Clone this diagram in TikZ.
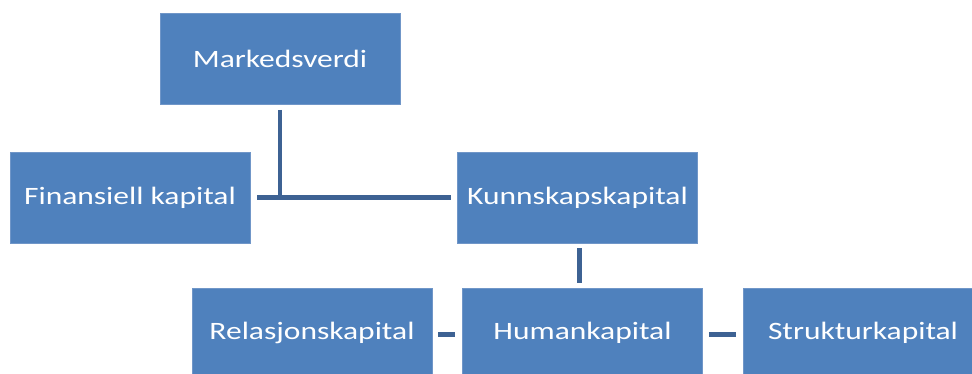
\documentclass[tikz,border=0pt]{standalone}
\usepackage{fontspec}
\setmainfont{Carlito}
\usetikzlibrary{calc}
\definecolor{boxfill}{HTML}{4F81BD}
\definecolor{boxedge}{HTML}{7096C8}
\definecolor{linkcol}{HTML}{3D6293}
\tikzset{
  orgbox/.style={draw=boxedge, line width=0.8pt, fill=boxfill, text=white,
    minimum width=240pt, minimum height=91pt, inner sep=0pt,
    font=\fontsize{25}{28}\selectfont},
  link/.style={draw=linkcol, line width=4.6pt}
}
\newcommand{\wide}[1]{\scalebox{1.26}[1]{#1}}
\begin{document}
\begin{tikzpicture}[x=1pt,y=-1pt]
  \useasboundingbox (0,0) rectangle (972,374);
  \clip (0,0) rectangle (972,374);
  % boxes
  \node[orgbox] (M) at (280,59) {\wide{Markedsverdi}};
  \node[orgbox] (F) at (130,197.5) {\wide{Finansiell kapital}};
  \node[orgbox] (K) at (577.5,197.5) {\wide{Kunnskapskapital}};
  \node[orgbox, minimum height=90pt] (R) at (312,333) {\wide{Relasjonskapital}};
  \node[orgbox, minimum height=90pt] (H) at (582.5,333) {\wide{Humankapital}};
  \node[orgbox, minimum height=90pt] (S) at (863,333) {\wide{Strukturkapital}};
  % connectors (yshift is in page units, so negative means downwards)
  \coordinate (J) at (M.south |- F.east);
  \draw[link] ([yshift=-5pt]M.south) -- ([yshift=-2.3pt]J);
  \draw[link] ([xshift=7pt]F.east) -- ([xshift=-6pt]K.west);
  \draw[link] ([xshift=2pt,yshift=-5pt]K.south) -- ([xshift=-3pt,yshift=5pt]H.north);
  \draw[link] ([xshift=6pt,yshift=-1.5pt]R.east) -- ([xshift=-7pt,yshift=-1.5pt]H.west);
  \draw[link] ([xshift=6pt,yshift=-1.5pt]H.east) -- ([xshift=-7pt,yshift=-1.5pt]S.west);
\end{tikzpicture}
\end{document}
